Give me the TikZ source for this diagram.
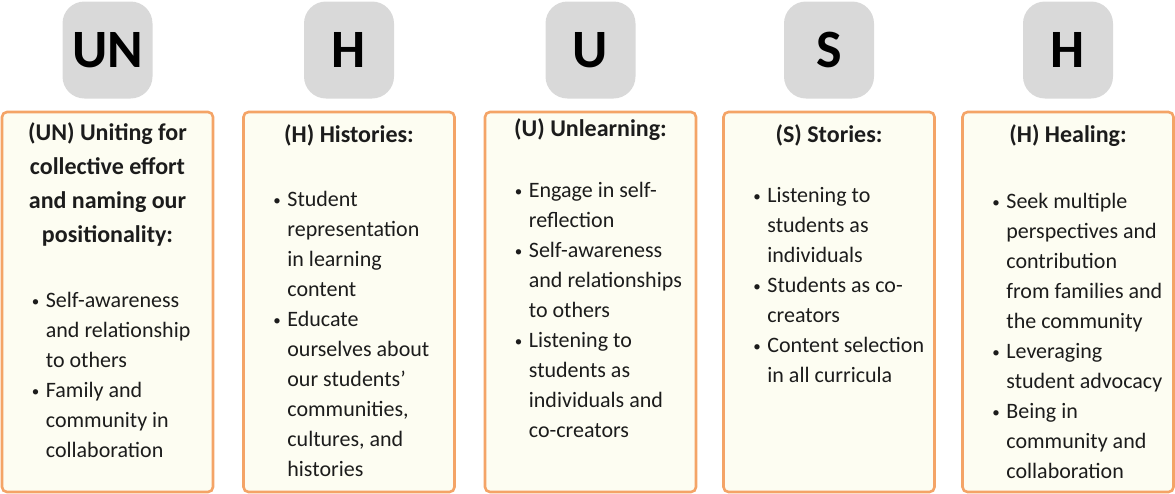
\documentclass[tikz,border=0pt]{standalone}
\usepackage{fontspec}
\setmainfont{Carlito}
\definecolor{keygray}{HTML}{D9D9D9}
\definecolor{panelline}{HTML}{F4A467}
\definecolor{panelfill}{HTML}{FDFDF2}
\definecolor{ink}{HTML}{1C1C1C}
% bullet and hanging indent for the list lines
\newcommand\bul{\makebox[15pt][l]{\hspace{1pt}\raisebox{1.5pt}{\fontsize{15}{15}\selectfont\textbullet}}}
\newcommand\ind{\hspace*{15pt}}
\tikzset{
 letter/.style={fill=keygray,rounded corners=22pt,minimum width=90pt,minimum height=97pt,inner sep=0pt,text=black,font=\fontsize{54}{54}\selectfont\bfseries},
 panel/.style={draw=panelline,line width=2.6pt,fill=panelfill,rounded corners=5pt,minimum width=211pt,minimum height=380pt,inner sep=0pt},
 head/.style={inner sep=0pt,text=ink,align=center,font=\fontsize{24}{34}\selectfont\bfseries},
 body/.style={inner sep=0pt,text=ink,anchor=base west,font=\fontsize{22}{30}\selectfont}
}
\begin{document}
\begin{tikzpicture}[x=1pt,y=-1pt]
\useasboundingbox(0,0)rectangle(1175,493);
\foreach \x/\l/\n in {107.5/UN/un,349/H/hist,590.5/U/unl,829/S/sto,1068/H/heal}{
 \node[letter](l-\n)at(\x,50){\l};
 \node[panel](p-\n)at(\x,302){};
}
% titles
\node[head,anchor=base](t-un)at([yshift=-30pt]p-un.north){\parbox[t]{205pt}{\centering (UN) Uniting for\\collective effort\\and naming our\\positionality:}};
\node[head,anchor=base](t-hist)at([yshift=-32pt]p-hist.north){(H) Histories:};
\node[head,anchor=base](t-unl)at([yshift=-26pt]p-unl.north){(U) Unlearning:};
\node[head,anchor=base](t-sto)at([yshift=-32pt]p-sto.north){(S) Stories:};
\node[head,anchor=base](t-heal)at([yshift=-32pt]p-heal.north){(H) Healing:};
% lists
\node[body](b-un)at([xshift=30pt,yshift=-197pt]p-un.north west){\parbox[t]{180pt}{\bul Self-awareness\\\ind and relationship\\\ind to others\\\bul Family and\\\ind community in\\\ind collaboration}};
\node[body](b-hist)at([xshift=30pt,yshift=-96pt]p-hist.north west){\parbox[t]{180pt}{\bul Student\\\ind representation\\\ind in learning\\\ind content\\\bul Educate\\\ind ourselves about\\\ind our students'\\\ind communities,\\\ind cultures, and\\\ind histories}};
\node[body](b-unl)at([xshift=30pt,yshift=-87pt]p-unl.north west){\parbox[t]{180pt}{\bul Engage in self-\\\ind reflection\\\bul Self-awareness\\\ind and relationships\\\ind to others\\\bul Listening to\\\ind students as\\\ind individuals and\\\ind co-creators}};
\node[body](b-sto)at([xshift=30pt,yshift=-92pt]p-sto.north west){\parbox[t]{180pt}{\bul Listening to\\\ind students as\\\ind individuals\\\bul Students as co-\\\ind creators\\\bul Content selection\\\ind in all curricula}};
\node[body](b-heal)at([xshift=30pt,yshift=-98pt]p-heal.north west){\parbox[t]{180pt}{\bul Seek multiple\\\ind perspectives and\\\ind contribution\\\ind from families and\\\ind the community\\\bul Leveraging\\\ind student advocacy\\\bul Being in\\\ind community and\\\ind collaboration}};
\end{tikzpicture}
\end{document}
